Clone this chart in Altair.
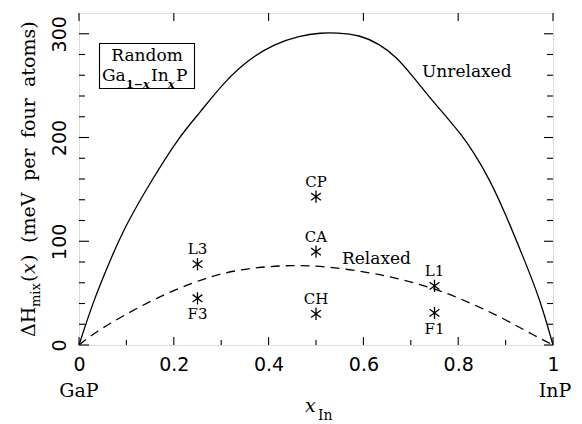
import altair as alt
import pandas as pd

# ---------------- data ----------------
unrel_x = [0.0, 0.03, 0.064, 0.1, 0.155, 0.21, 0.255, 0.307, 0.36, 0.412, 0.465, 0.511,
           0.543, 0.592, 0.634, 0.669, 0.704, 0.739, 0.775, 0.806, 0.831, 0.866, 0.901,
           0.936, 0.972, 1.0]
unrel_y = [0, 42, 80, 117, 160, 200, 224, 254, 276, 290, 298, 301,
           301, 299, 290, 278, 259, 239, 220, 203, 187, 160, 125,
           86, 45, 0]

rel_x = [0.0, 0.033, 0.096, 0.166, 0.244, 0.307, 0.377, 0.448, 0.518, 0.613, 0.683,
         0.754, 0.824, 0.894, 0.965, 1.0]
rel_y = [0, 12, 29, 46, 61, 70, 75, 77, 76, 70, 63,
         54, 41, 26, 8, 0]

pt_labels = ["L3", "F3", "CP", "CA", "CH", "L1", "F1"]
pt_x = [0.25, 0.25, 0.5, 0.5, 0.5, 0.75, 0.75]
pt_y = [78, 45, 143, 90, 30, 57, 31]
pt_side = ["above", "below", "above", "above", "above", "above", "below"]

x_major = [0.0, 0.2, 0.4, 0.6, 0.8, 1.0]
x_minor = [0.1, 0.3, 0.5, 0.7, 0.9]
y_major = [0, 100, 200, 300]
y_minor = [20, 40, 60, 80, 120, 140, 160, 180, 220, 240, 260, 280]

# ---------------- layout constants ----------------
W, H = 474, 332
L, T = 79, 13
SERIF = "DejaVu Serif"
SANS = "DejaVu Sans"

xs = alt.Scale(domain=[0, 1], nice=False, zero=False)
ys = alt.Scale(domain=[0, 320], nice=False, zero=False)

curves = pd.DataFrame({"x": unrel_x, "y": unrel_y})
relax = pd.DataFrame({"x": rel_x, "y": rel_y})
pts = pd.DataFrame({"x": pt_x, "y": pt_y, "label": pt_labels, "side": pt_side})
one = pd.DataFrame({"a": [0]})

xax = alt.Axis(values=x_major, format=".1~f", ticks=False, tickSize=0, domain=False, grid=False,
               title=None, labelFont=SANS, labelFontSize=19, labelColor="black",
               labelPadding=10, labelFlush=False)
yax = alt.Axis(values=y_major, ticks=False, tickSize=0, domain=False, grid=False, title=None,
               labelFont=SANS, labelFontSize=19, labelColor="black", labelAngle=270,
               labelAlign="center", labelBaseline="alphabetic", labelPadding=14,
               labelFlush=False)


def X(f):
    return alt.X(f, scale=xs, axis=xax)


def Y(f):
    return alt.Y(f, scale=ys, axis=yax)


unrel_line = alt.Chart(curves).mark_line(color="black", strokeWidth=1.3, interpolate="basis").encode(
    x=X("x:Q"), y=Y("y:Q"))
rel_line = alt.Chart(relax).mark_line(color="black", strokeWidth=1.3, strokeDash=[9, 6],
                                      interpolate="basis").encode(x=X("x:Q"), y=Y("y:Q"))

STAR = "M0,-1L0,1M-0.8,-0.6L0.8,0.6M-0.8,0.6L0.8,-0.6"
stars = alt.Chart(pts).mark_point(shape=STAR, size=150, filled=False, color="black",
                                  strokeWidth=1.3, opacity=1).encode(x=X("x:Q"), y=Y("y:Q"))

lab_above = alt.Chart(pts).transform_filter(alt.datum.side == "above").mark_text(
    font=SERIF, fontSize=15, color="black", dy=-15, baseline="middle").encode(
    x=X("x:Q"), y=Y("y:Q"), text="label:N")
lab_below = alt.Chart(pts).transform_filter(alt.datum.side == "below").mark_text(
    font=SERIF, fontSize=15, color="black", dy=16, baseline="middle").encode(
    x=X("x:Q"), y=Y("y:Q"), text="label:N")


def tick_marks(vals, orient, length):
    d = pd.DataFrame({"v": vals})
    if orient in ("bottom", "top"):
        ypos = H - length / 2 if orient == "bottom" else length / 2
        return alt.Chart(d).mark_tick(color="black", orient="vertical", size=length,
                                      thickness=1.1, opacity=1).encode(
            x=X("v:Q"), y=alt.value(ypos))
    xpos = length / 2 if orient == "left" else W - length / 2
    return alt.Chart(d).mark_tick(color="black", orient="horizontal", size=length,
                                  thickness=1.1, opacity=1).encode(
        y=Y("v:Q"), x=alt.value(xpos))


ticks = [
    tick_marks(x_major, "bottom", 8), tick_marks(x_minor, "bottom", 5),
    tick_marks(x_major, "top", 8),
    tick_marks(y_major, "left", 10), tick_marks(y_minor, "left", 6),
    tick_marks(y_major, "right", 9), tick_marks(y_minor, "right", 6),
]


def txt(s, px, py, size, align="left", baseline="alphabetic", angle=0, style="normal",
        font=SERIF, weight="normal"):
    return alt.Chart(one).mark_text(text=s, fontSize=size, align=align, baseline=baseline,
                                    angle=angle, font=font, fontStyle=style,
                                    fontWeight=weight, color="black").encode(
        x=alt.value(px - L), y=alt.value(py - T))


box = alt.Chart(one).mark_rect(fill="white", fillOpacity=0, stroke="black", strokeWidth=1.1).encode(
    x=alt.value(99.5 - L), x2=alt.value(194.5 - L), y=alt.value(43.5 - T), y2=alt.value(88.5 - T))

TX = 35  # baseline x of the rotated y title
annots = [
    box,
    txt("Random", 147, 61, 17, align="center"),
    txt("Ga", 102, 81, 17),
    txt("1\u2212", 126, 88, 11, weight="bold"),
    txt("x", 143, 88, 11, style="italic", weight="bold"),
    txt("In", 151, 81, 17),
    txt("x", 168, 88, 11, style="italic", weight="bold"),
    txt("P", 176, 81, 17),
    txt("Unrelaxed", 422, 77, 17),
    txt("Relaxed", 342, 264, 17),
    txt("GaP", 79, 397, 19, align="center"),
    txt("InP", 555, 397, 19, align="center"),
    txt("x", 305, 412, 19, style="italic"),
    txt("In", 318, 420, 14),
    # y-axis title pieces (rotated, reading upwards)
    txt("\u0394H", TX, 337, 19, angle=270),
    txt("mix", TX + 5, 307, 13, angle=270),
    txt("(", TX, 282, 19, angle=270),
    txt("x", TX, 274, 19, angle=270, style="italic"),
    txt(")", TX, 262, 19, angle=270),
    txt("(meV", TX, 243, 19, angle=270),
    txt("per", TX, 181, 19, angle=270),
    txt("four", TX, 138, 19, angle=270),
    txt("atoms)", TX, 87, 19, angle=270),
]

chart = alt.layer(
    unrel_line, rel_line, stars, lab_above, lab_below, *ticks, *annots
).properties(
    width=W, height=H,
    autosize=alt.AutoSizeParams(type="none"),
    padding={"left": L, "top": T, "right": 582 - L - W, "bottom": 424 - T - H},
).configure_view(stroke="black", strokeWidth=1.3).configure(background="white")

chart.save("out.html", embed_options={"renderer": "svg", "actions": False})
